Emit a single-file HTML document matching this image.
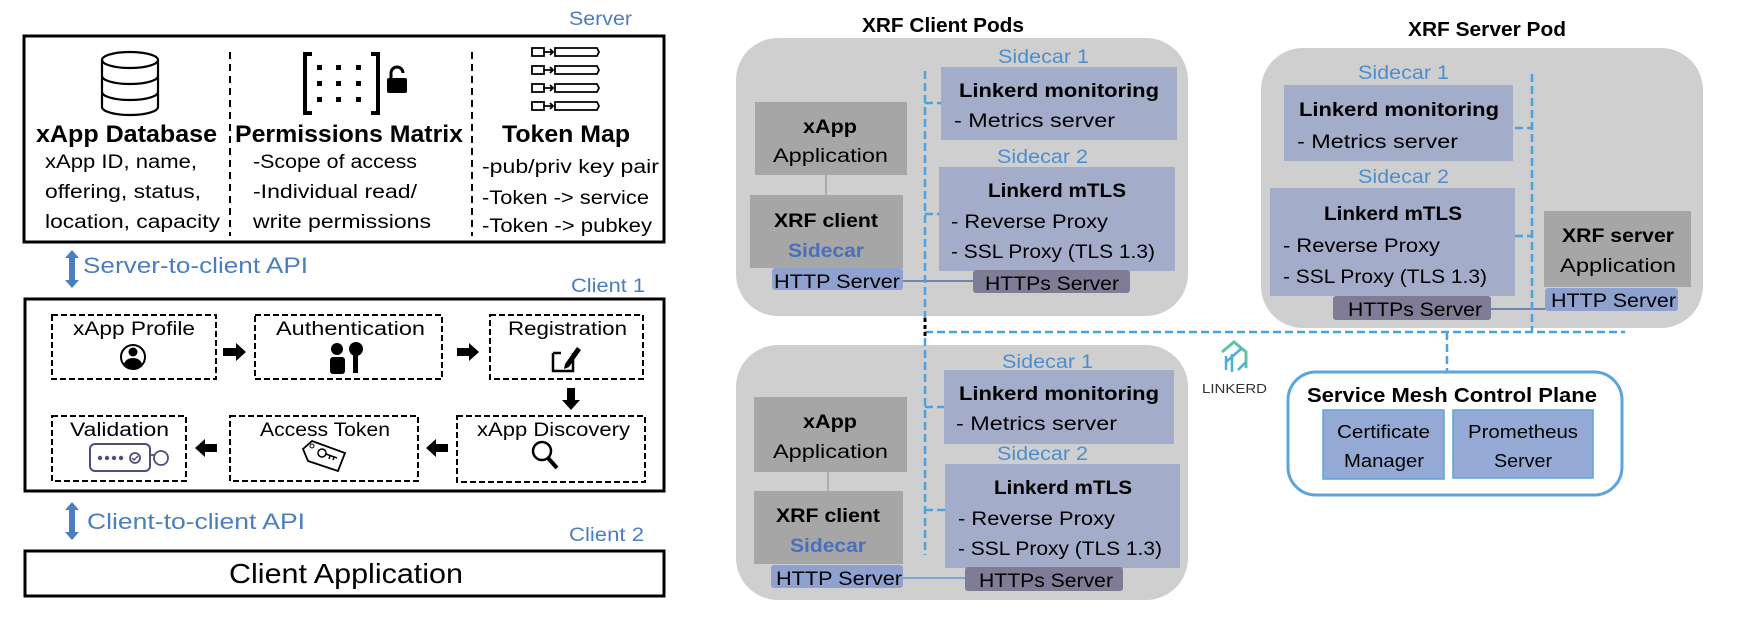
<!DOCTYPE html>
<html><head><meta charset="utf-8"><style>
html,body{margin:0;padding:0;background:#fff;}
svg{display:block;font-family:"Liberation Sans",sans-serif;}
.b{font-weight:bold;}
.bl{fill:#4a7ebf;}
.sc{fill:#4a8ed0;}
</style></head><body>
<svg width="1740" height="638" viewBox="0 0 1740 638" xmlns="http://www.w3.org/2000/svg">
<!-- ============ LEFT ============ -->
<text x="569" y="25" font-size="19" class="bl" textLength="63" lengthAdjust="spacingAndGlyphs">Server</text>
<rect x="24" y="36" width="640" height="206" fill="none" stroke="#000" stroke-width="3"/>
<line x1="230" y1="52" x2="230" y2="236" stroke="#000" stroke-width="2" stroke-dasharray="7,5"/>
<line x1="472" y1="52" x2="472" y2="236" stroke="#000" stroke-width="2" stroke-dasharray="7,5"/>
<g fill="none" stroke="#000" stroke-width="2.2">
<ellipse cx="130" cy="60" rx="28" ry="8"/>
<path d="M102,60 V107 A28,8 0 0 0 158,107 V60"/>
<path d="M102,76 A28,8 0 0 0 158,76"/>
<path d="M102,92 A28,8 0 0 0 158,92"/>
</g>
<g fill="#000">
<path d="M303,52 h9 v4 h-5 v55 h5 v4 h-9z"/>
<path d="M380,52 h-9 v4 h5 v55 h-5 v4 h9z"/>
<rect x="317" y="65" width="5" height="5"/><rect x="336" y="65" width="5" height="5"/><rect x="356" y="65" width="5" height="5"/>
<rect x="317" y="81" width="5" height="5"/><rect x="336" y="81" width="5" height="5"/><rect x="356" y="81" width="5" height="5"/>
<rect x="317" y="97" width="5" height="5"/><rect x="336" y="97" width="5" height="5"/><rect x="356" y="97" width="5" height="5"/>
<rect x="387" y="78" width="20" height="15" rx="2"/>
</g>
<path d="M391,78 v-5 a6,6 0 0 1 12,0" fill="none" stroke="#000" stroke-width="3"/>
<g fill="none" stroke="#000" stroke-width="1.8">
<rect x="532" y="48" width="12" height="8"/><rect x="532" y="66" width="12" height="8"/><rect x="532" y="84" width="12" height="8"/><rect x="532" y="102" width="12" height="8"/>
<path d="M555,48 h42 l2,4 l-2,4 h-42z"/><path d="M555,66 h42 l2,4 l-2,4 h-42z"/><path d="M555,84 h42 l2,4 l-2,4 h-42z"/><path d="M555,102 h42 l2,4 l-2,4 h-42z"/>
<path d="M544,52 h9 M550,49 l3,3 l-3,3 M544,70 h9 M550,67 l3,3 l-3,3 M544,88 h9 M550,85 l3,3 l-3,3 M544,106 h9 M550,103 l3,3 l-3,3"/>
</g>
<text x="36" y="142" font-size="24" class="b" textLength="181" lengthAdjust="spacingAndGlyphs">xApp Database</text>
<text x="235" y="142" font-size="24" class="b" textLength="228" lengthAdjust="spacingAndGlyphs">Permissions Matrix</text>
<text x="502" y="142" font-size="24" class="b" textLength="128" lengthAdjust="spacingAndGlyphs">Token Map</text>
<g font-size="19">
<text x="45" y="168" textLength="152" lengthAdjust="spacingAndGlyphs">xApp ID, name,</text>
<text x="45" y="198" textLength="156" lengthAdjust="spacingAndGlyphs">offering, status,</text>
<text x="45" y="228" textLength="175" lengthAdjust="spacingAndGlyphs">location, capacity</text>
<text x="253" y="168" textLength="164" lengthAdjust="spacingAndGlyphs">-Scope of access</text>
<text x="253" y="198" textLength="164" lengthAdjust="spacingAndGlyphs">-Individual read/</text>
<text x="253" y="228" textLength="178" lengthAdjust="spacingAndGlyphs">write permissions</text>
<text x="482" y="173" textLength="177" lengthAdjust="spacingAndGlyphs">-pub/priv key pair</text>
<text x="482" y="204" textLength="167" lengthAdjust="spacingAndGlyphs">-Token -&gt; service</text>
<text x="482" y="232" textLength="170" lengthAdjust="spacingAndGlyphs">-Token -&gt; pubkey</text>
</g>
<path d="M72,250 l-7,8 h4 v22 h-4 l7,8 l7,-8 h-4 v-22 h4z" fill="#4a7ebf"/>
<text x="83" y="273" font-size="22" class="bl" textLength="225" lengthAdjust="spacingAndGlyphs">Server-to-client API</text>
<text x="571" y="292" font-size="19" class="bl" textLength="74" lengthAdjust="spacingAndGlyphs">Client 1</text>
<rect x="25" y="299" width="639" height="192" fill="none" stroke="#000" stroke-width="3"/>
<g fill="none" stroke="#000" stroke-width="2" stroke-dasharray="6,3">
<rect x="52" y="315" width="164" height="64"/>
<rect x="255" y="315" width="187" height="64"/>
<rect x="490" y="315" width="153" height="64"/>
<rect x="52" y="416" width="134" height="65"/>
<rect x="230" y="416" width="188" height="65"/>
<rect x="457" y="416" width="188" height="66"/>
</g>
<g font-size="19">
<text x="73" y="335" textLength="122" lengthAdjust="spacingAndGlyphs">xApp Profile</text>
<text x="276" y="335" textLength="149" lengthAdjust="spacingAndGlyphs">Authentication</text>
<text x="508" y="335" textLength="119" lengthAdjust="spacingAndGlyphs">Registration</text>
<text x="70" y="436" textLength="99" lengthAdjust="spacingAndGlyphs">Validation</text>
<text x="260" y="436" textLength="130" lengthAdjust="spacingAndGlyphs">Access Token</text>
<text x="477" y="436" textLength="153" lengthAdjust="spacingAndGlyphs">xApp Discovery</text>
</g>
<g fill="#000">
<path d="M223,348 h13 v-5 l10,9 l-10,9 v-5 h-13z"/>
<path d="M457,348 h12 v-5 l10,9 l-10,9 v-5 h-12z"/>
<path d="M567,388 h8 v12 h5 l-9,10 l-9,-10 h5z"/>
<path d="M448,444 h-12 v-5 l-10,9 l10,9 v-5 h12z"/>
<path d="M217,444 h-12 v-5 l-10,9 l10,9 v-5 h12z"/>
</g>
<circle cx="133" cy="357" r="12" fill="none" stroke="#000" stroke-width="2"/>
<circle cx="133" cy="352" r="4.5" fill="#000"/>
<path d="M124,365 a9,7 0 0 1 18,0 a12,12 0 0 1 -18,0z" fill="#000"/>
<circle cx="337" cy="349" r="6" fill="#000"/>
<rect x="330" y="357" width="15" height="17" rx="3" fill="#000"/>
<circle cx="356" cy="349" r="7" fill="#000"/>
<rect x="353" y="354" width="5" height="19" fill="#000"/>
<path d="M553,353 v18 h20 v-18" fill="none" stroke="#000" stroke-width="2.5"/>
<path d="M553,353 h8" stroke="#000" stroke-width="2.5"/>
<path d="M565,364 l12,-17 l4,3 l-12,17 l-5,2z" fill="#000"/>
<circle cx="542" cy="451" r="9" fill="none" stroke="#000" stroke-width="2.5"/>
<path d="M548,458 l9,10" stroke="#000" stroke-width="4"/>
<path d="M312,441 l33,12 l-7,18 l-30,-10 l-5,-12z" fill="none" stroke="#000" stroke-width="1.8"/>
<circle cx="312" cy="446" r="2" fill="none" stroke="#000"/>
<circle cx="322" cy="453" r="4" fill="none" stroke="#000" stroke-width="1.5"/>
<path d="M326,454 l11,4 m-3,-1 l-1,3 m-3,-4 l-1,3" stroke="#000" stroke-width="1.5"/>
<rect x="90" y="444" width="60" height="27" rx="5" fill="none" stroke="#554a7a" stroke-width="2"/>
<g fill="#554a7a"><circle cx="100" cy="458" r="2.2"/><circle cx="107" cy="458" r="2.2"/><circle cx="114" cy="458" r="2.2"/><circle cx="121" cy="458" r="2.2"/></g>
<circle cx="135" cy="458" r="5" fill="none" stroke="#554a7a" stroke-width="1.8"/>
<path d="M132,458 l2,2 l4,-4" fill="none" stroke="#554a7a" stroke-width="1.5"/>
<circle cx="161" cy="458" r="7" fill="none" stroke="#554a7a" stroke-width="1.8"/>
<path d="M150,455 h4" stroke="#554a7a" stroke-width="1.8"/>
<path d="M72,502 l-7,8 h4 v22 h-4 l7,8 l7,-8 h-4 v-22 h4z" fill="#4a7ebf"/>
<text x="87" y="529" font-size="22" class="bl" textLength="218" lengthAdjust="spacingAndGlyphs">Client-to-client API</text>
<text x="569" y="541" font-size="19" class="bl" textLength="75" lengthAdjust="spacingAndGlyphs">Client 2</text>
<rect x="25" y="551" width="639" height="45" fill="none" stroke="#000" stroke-width="3"/>
<text x="229" y="583" font-size="28" textLength="234" lengthAdjust="spacingAndGlyphs">Client Application</text>

<!-- ============ RIGHT ============ -->
<text x="862" y="32" font-size="20" class="b" textLength="162" lengthAdjust="spacingAndGlyphs">XRF Client Pods</text>
<text x="1408" y="36" font-size="20" class="b" textLength="158" lengthAdjust="spacingAndGlyphs">XRF Server Pod</text>

<rect x="736" y="38" width="452" height="278" rx="42" fill="#d0cfcf"/>
<rect x="736" y="345" width="452" height="255" rx="42" fill="#d0cfcf"/>
<rect x="1261" y="48" width="442" height="280" rx="42" fill="#d0cfcf"/>

<g>
<text x="998" y="63" font-size="19" class="sc" textLength="91" lengthAdjust="spacingAndGlyphs">Sidecar 1</text>
<rect x="941" y="67" width="236" height="73" fill="#a3acc8"/>
<text x="959" y="97" font-size="19" class="b" textLength="200" lengthAdjust="spacingAndGlyphs">Linkerd monitoring</text>
<text x="954" y="127" font-size="19" textLength="161" lengthAdjust="spacingAndGlyphs">- Metrics server</text>
<text x="997" y="163" font-size="19" class="sc" textLength="91" lengthAdjust="spacingAndGlyphs">Sidecar 2</text>
<rect x="939" y="167" width="236" height="104" fill="#a3acc8"/>
<text x="988" y="197" font-size="19" class="b" textLength="138" lengthAdjust="spacingAndGlyphs">Linkerd mTLS</text>
<text x="951" y="228" font-size="19" textLength="157" lengthAdjust="spacingAndGlyphs">- Reverse Proxy</text>
<text x="951" y="258" font-size="19" textLength="204" lengthAdjust="spacingAndGlyphs">- SSL Proxy (TLS 1.3)</text>
<rect x="973" y="270" width="157" height="23" rx="3" fill="#7f7c96"/>
<text x="985" y="290" font-size="19" textLength="134" lengthAdjust="spacingAndGlyphs">HTTPs Server</text>
<rect x="755" y="102" width="152" height="73" fill="#a6a6a6"/>
<text x="803" y="133" font-size="19" class="b" textLength="54" lengthAdjust="spacingAndGlyphs">xApp</text>
<text x="773" y="162" font-size="19" textLength="115" lengthAdjust="spacingAndGlyphs">Application</text>
<line x1="826" y1="175" x2="826" y2="195" stroke="#888" stroke-width="1"/>
<rect x="750" y="195" width="153" height="73" fill="#a6a6a6"/>
<text x="774" y="227" font-size="19" class="b" textLength="104" lengthAdjust="spacingAndGlyphs">XRF client</text>
<text x="788" y="257" font-size="19" class="b" fill="#4a70bd" textLength="76" lengthAdjust="spacingAndGlyphs">Sidecar</text>
<rect x="772" y="268" width="131" height="22" rx="3" fill="#8fa2cf"/>
<text x="774" y="288" font-size="19" textLength="126" lengthAdjust="spacingAndGlyphs">HTTP Server</text>
<line x1="903" y1="281" x2="973" y2="281" stroke="#4a6fa5" stroke-width="1.5"/>
</g>

<g>
<text x="1002" y="368" font-size="19" class="sc" textLength="91" lengthAdjust="spacingAndGlyphs">Sidecar 1</text>
<rect x="944" y="370" width="230" height="74" fill="#a3acc8"/>
<text x="959" y="400" font-size="19" class="b" textLength="200" lengthAdjust="spacingAndGlyphs">Linkerd monitoring</text>
<text x="956" y="430" font-size="19" textLength="161" lengthAdjust="spacingAndGlyphs">- Metrics server</text>
<text x="997" y="460" font-size="19" class="sc" textLength="91" lengthAdjust="spacingAndGlyphs">Sidecar 2</text>
<rect x="945" y="464" width="235" height="104" fill="#a3acc8"/>
<text x="994" y="494" font-size="19" class="b" textLength="138" lengthAdjust="spacingAndGlyphs">Linkerd mTLS</text>
<text x="958" y="525" font-size="19" textLength="157" lengthAdjust="spacingAndGlyphs">- Reverse Proxy</text>
<text x="958" y="555" font-size="19" textLength="204" lengthAdjust="spacingAndGlyphs">- SSL Proxy (TLS 1.3)</text>
<rect x="965" y="567" width="158" height="24" rx="3" fill="#7f7c96"/>
<text x="979" y="587" font-size="19" textLength="134" lengthAdjust="spacingAndGlyphs">HTTPs Server</text>
<rect x="754" y="397" width="153" height="75" fill="#a6a6a6"/>
<text x="803" y="428" font-size="19" class="b" textLength="54" lengthAdjust="spacingAndGlyphs">xApp</text>
<text x="773" y="458" font-size="19" textLength="115" lengthAdjust="spacingAndGlyphs">Application</text>
<line x1="828" y1="472" x2="828" y2="491" stroke="#888" stroke-width="1"/>
<rect x="754" y="491" width="149" height="73" fill="#a6a6a6"/>
<text x="776" y="522" font-size="19" class="b" textLength="104" lengthAdjust="spacingAndGlyphs">XRF client</text>
<text x="790" y="552" font-size="19" class="b" fill="#4a70bd" textLength="76" lengthAdjust="spacingAndGlyphs">Sidecar</text>
<rect x="771" y="565" width="132" height="23" rx="3" fill="#8fa2cf"/>
<text x="776" y="585" font-size="19" textLength="126" lengthAdjust="spacingAndGlyphs">HTTP Server</text>
<line x1="903" y1="578" x2="965" y2="578" stroke="#5b9bd5" stroke-width="1.5"/>
</g>

<g>
<text x="1358" y="79" font-size="19" class="sc" textLength="91" lengthAdjust="spacingAndGlyphs">Sidecar 1</text>
<rect x="1284" y="85" width="229" height="76" fill="#a3acc8"/>
<text x="1299" y="116" font-size="19" class="b" textLength="200" lengthAdjust="spacingAndGlyphs">Linkerd monitoring</text>
<text x="1297" y="148" font-size="19" textLength="161" lengthAdjust="spacingAndGlyphs">- Metrics server</text>
<text x="1358" y="183" font-size="19" class="sc" textLength="91" lengthAdjust="spacingAndGlyphs">Sidecar 2</text>
<rect x="1270" y="188" width="245" height="108" fill="#a3acc8"/>
<text x="1324" y="220" font-size="19" class="b" textLength="138" lengthAdjust="spacingAndGlyphs">Linkerd mTLS</text>
<text x="1283" y="252" font-size="19" textLength="157" lengthAdjust="spacingAndGlyphs">- Reverse Proxy</text>
<text x="1283" y="283" font-size="19" textLength="204" lengthAdjust="spacingAndGlyphs">- SSL Proxy (TLS 1.3)</text>
<rect x="1333" y="296" width="158" height="24" rx="3" fill="#7f7c96"/>
<text x="1348" y="316" font-size="19" textLength="134" lengthAdjust="spacingAndGlyphs">HTTPs Server</text>
<rect x="1544" y="211" width="147" height="76" fill="#a6a6a6"/>
<text x="1562" y="242" font-size="19" class="b" textLength="112" lengthAdjust="spacingAndGlyphs">XRF server</text>
<text x="1560" y="272" font-size="19" textLength="116" lengthAdjust="spacingAndGlyphs">Application</text>
<rect x="1545" y="288" width="133" height="23" rx="3" fill="#8fa2cf"/>
<text x="1551" y="307" font-size="19" textLength="125" lengthAdjust="spacingAndGlyphs">HTTP Server</text>
<line x1="1491" y1="309" x2="1545" y2="309" stroke="#4a6fa5" stroke-width="1.5"/>
</g>

<g stroke="#4aa3e0" stroke-width="2.5" fill="none" stroke-dasharray="8,4">
<line x1="925" y1="71" x2="925" y2="320"/>
<line x1="925" y1="103" x2="941" y2="103"/>
<line x1="925" y1="214" x2="939" y2="214"/>
<line x1="925" y1="338" x2="925" y2="555"/>
<line x1="925" y1="407" x2="944" y2="407"/>
<line x1="925" y1="510" x2="945" y2="510"/>
<line x1="925" y1="332" x2="1625" y2="332"/>
<line x1="1532" y1="74" x2="1532" y2="332"/>
<line x1="1515" y1="128" x2="1532" y2="128"/>
<line x1="1515" y1="236" x2="1532" y2="236"/>
<line x1="1447" y1="332" x2="1447" y2="372"/>
</g>
<line x1="925" y1="318" x2="925" y2="338" stroke="#000" stroke-width="3" stroke-dasharray="4,3"/>

<g fill="none" stroke-width="3">
<path d="M1222,352 l12,-10 l12,10 v16" stroke="#5ec4a4"/>
<path d="M1226,370 v-14 M1232,372 v-18 M1238,370 l8,-8 M1226,362 l16,-14" stroke="#4ab0d8" stroke-width="2.5"/>
</g>
<text x="1202" y="393" font-size="13" fill="#333" textLength="65" lengthAdjust="spacingAndGlyphs">LINKERD</text>

<rect x="1288" y="372" width="334" height="123" rx="28" fill="#fff" stroke="#5aa6dc" stroke-width="3"/>
<text x="1307" y="402" font-size="20" class="b" textLength="290" lengthAdjust="spacingAndGlyphs">Service Mesh Control Plane</text>
<rect x="1323" y="410" width="121" height="69" fill="#95a9d5" stroke="#5aa6dc" stroke-width="1.5"/>
<rect x="1453" y="410" width="140" height="68" fill="#95a9d5" stroke="#5aa6dc" stroke-width="1.5"/>
<text x="1337" y="438" font-size="18" textLength="93" lengthAdjust="spacingAndGlyphs">Certificate</text>
<text x="1344" y="467" font-size="18" textLength="80" lengthAdjust="spacingAndGlyphs">Manager</text>
<text x="1468" y="438" font-size="18" textLength="110" lengthAdjust="spacingAndGlyphs">Prometheus</text>
<text x="1494" y="467" font-size="18" textLength="58" lengthAdjust="spacingAndGlyphs">Server</text>
</svg>
</body></html>
